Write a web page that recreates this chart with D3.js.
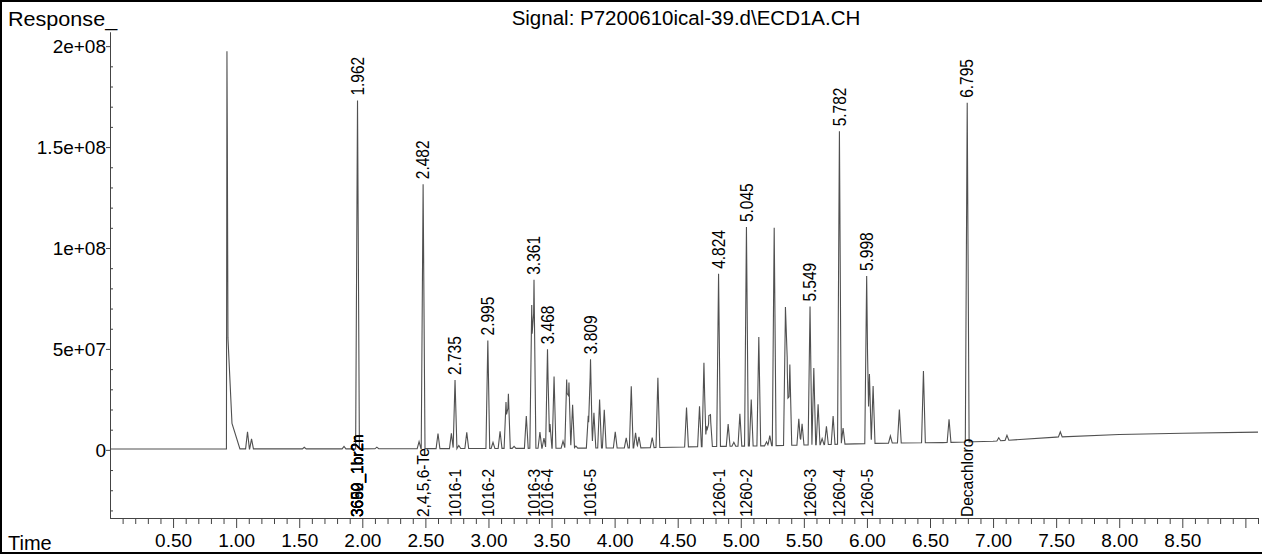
<!DOCTYPE html>
<html>
<head>
<meta charset="utf-8">
<script src="https://cdn.jsdelivr.net/npm/d3@7"></script>
<style>
  body { margin: 0; background: #fff; }
  svg text { font-family: "Liberation Sans", Arial, sans-serif; fill: #000; }
</style>
</head>
<body>
<div id="chart"></div>
<script>
// ECD1A chromatogram with retention-time and compound annotations
const W = 1262, H = 555;

// baseline drift: time (min) -> response
const baselineTimes  = [0, 1.9, 2.5, 3.5, 4.2, 4.7, 5.2, 5.8, 6.2, 6.6, 6.85, 7.0, 7.5, 8.0, 8.5, 9.1];
const baselineValues = [0.45e6, 0.5e6, 0.6e6, 0.8e6, 1.0e6, 1.6e6, 2.0e6, 2.8e6, 3.4e6, 3.6e6, 4.0e6, 4.3e6, 6.3e6, 7.6e6, 8.2e6, 8.8e6];

// peak apex times (min) and heights above the baseline
const peakTimes = [
  1.090, 1.122, 1.540, 1.855, 1.962, 2.115, 2.450, 2.482, 2.600, 2.706,
  2.735, 2.765, 2.828, 2.995, 3.036, 3.092, 3.139, 3.158, 3.203, 3.300,
  3.343, 3.361, 3.408, 3.440, 3.468, 3.488, 3.520, 3.591, 3.620, 3.638,
  3.667, 3.693, 3.791, 3.809, 3.836, 3.881, 3.918, 4.005, 4.092, 4.132,
  4.166, 4.193, 4.298, 4.343, 4.570, 4.673, 4.708, 4.729, 4.747, 4.760,
  4.824, 4.900, 4.945, 4.993, 5.045, 5.083, 5.143, 5.204, 5.230, 5.265,
  5.354, 5.368, 5.389, 5.460, 5.486, 5.549, 5.579, 5.613, 5.645, 5.679,
  5.732, 5.782, 5.811, 5.998, 6.020, 6.049, 6.186, 6.257, 6.448, 6.651,
  6.795, 7.045, 7.110, 7.533
];
const peakHeights = [
  8.5e6, 5e6, 0.8e6, 1.2e6, 172.5e6, 0.8e6, 3.5e6, 131e6, 7.5e6, 7.5e6,
  34e6, 1.5e6, 8e6, 53.5e6, 3e6, 8.5e6, 23e6, 27e6, 1e6, 16e6,
  71e6, 83.5e6, 8e6, 5e6, 49e6, 12e6, 35.5e6, 3.5e6, 34e6, 32.5e6,
  21.5e6, 1e6, 16e6, 44e6, 17.5e6, 24e6, 19e6, 8e6, 5e6, 30.5e6,
  7.5e6, 5.5e6, 5e6, 34.5e6, 19.5e6, 20e6, 41.5e6, 10e6, 13.5e6, 14e6,
  85.5e6, 11e6, 2e6, 16e6, 108.5e6, 23e6, 54e6, 2e6, 5e6, 108e6,
  66e6, 39e6, 40e6, 13e6, 10.5e6, 68.5e6, 38e6, 20e6, 3e6, 9e6,
  14e6, 155e6, 8e6, 83e6, 34.5e6, 28.5e6, 3.5e6, 16.5e6, 35.5e6, 11.5e6,
  168e6, 1.5e6, 2.5e6, 2.5e6
];

// solvent front and its tail: time, height, left and right half-widths (min)
const solventParts = [
  [0.927, 147e6, 0.004, 0.008],
  [0.927, 45e6, 0.004, 0.04],
  [0.930, 20e6, 0.004, 0.1]
];

// integrated peaks carrying a retention-time label
const labelledTimes = [1.962, 2.482, 2.735, 2.995, 3.361, 3.468, 3.809, 4.824, 5.045, 5.549, 5.782, 5.998, 6.795];

// compound names printed along the time axis
const compoundTimes = [1.962, 1.962, 1.962, 1.962, 2.482, 2.735, 2.995, 3.361, 3.468, 3.809, 4.824, 5.045, 5.549, 5.782, 5.998, 6.795];
const compoundNames = ["3650_1br2n", "3652_1br2n", "3699_1br2n", "3660_1br2n", "2,4,5,6-Te",
  "1016-1", "1016-2", "1016-3", "1016-4", "1016-5",
  "1260-1", "1260-2", "1260-3", "1260-4", "1260-5", "Decachloro"];

const xTickValues = [0.5, 1.0, 1.5, 2.0, 2.5, 3.0, 3.5, 4.0, 4.5, 5.0, 5.5, 6.0, 6.5, 7.0, 7.5, 8.0, 8.5, 9.0];
const xTickLabels = ["0.50", "1.00", "1.50", "2.00", "2.50", "3.00", "3.50", "4.00", "4.50", "5.00", "5.50", "6.00", "6.50", "7.00", "7.50", "8.00", "8.50", ""];
const yTickValues = [0, 5e7, 1e8, 1.5e8, 2e8];
const yTickLabels = ["0", "5e+07", "1e+08", "1.5e+08", "2e+08"];

const svg = d3.select("#chart").append("svg")
  .attr("width", W).attr("height", H);

const x = d3.scaleLinear().domain([0, 9.1]).range([110, 1258]);
const y = d3.scaleLinear().domain([-3.375e7, 2.07e8]).range([518, 32]);

// outer frame
svg.append("rect")
  .attr("x", 1).attr("y", 1)
  .attr("width", W + 4).attr("height", 552)
  .attr("fill", "none").attr("stroke", "#000").attr("stroke-width", 2);

// build the signal trace from the peak list
const baseline = d3.scaleLinear().domain(baselineTimes).range(baselineValues);
const HALF_W = 0.015;
const shapes = peakTimes.map((t, i) => ({ t, h: peakHeights[i], wl: HALF_W, wr: HALF_W }))
  .concat(solventParts.map(([t, h, wl, wr]) => ({ t, h, wl, wr })));

function response(t) {
  let v = baseline(t);
  for (const p of shapes) {
    if (t > p.t - p.wl && t <= p.t) v += p.h * (1 - (p.t - t) / p.wl);
    else if (t > p.t && t < p.t + p.wr) v += p.h * (1 - (t - p.t) / p.wr);
  }
  return v;
}

const knots = Array.from(new Set(baselineTimes.concat(
  shapes.flatMap(p => [p.t - p.wl, p.t, p.t + p.wr])
))).filter(t => t >= 0 && t <= 9.1).sort(d3.ascending);
const trace = knots.map(t => [t, response(t)]);

svg.append("path")
  .datum(trace)
  .attr("fill", "none")
  .attr("stroke", "#505050")
  .attr("stroke-width", 1.1)
  .attr("d", d3.line().x(d => x(d[0])).y(d => y(d[1])));

// x axis: minor ticks every 0.1 min, longer ticks every 0.5 min
const minorX = d3.range(1, 92).map(i => i / 10).filter(v => Math.round(v * 10) % 5 !== 0);
const gxMinor = svg.append("g")
  .attr("transform", "translate(0,518)")
  .call(d3.axisBottom(x).tickValues(minorX).tickSize(6).tickSizeOuter(0).tickFormat(""));
const gx = svg.append("g")
  .attr("transform", "translate(0,518)")
  .call(d3.axisBottom(x).tickValues(xTickValues).tickSize(10).tickSizeOuter(0)
    .tickPadding(6).tickFormat((d, i) => xTickLabels[i]));

// y axis
const minorY = d3.range(-3, 21).map(i => i * 1e7).filter(v => !yTickValues.includes(v));
const gyMinor = svg.append("g")
  .attr("transform", "translate(110,0)")
  .call(d3.axisRight(y).tickValues(minorY).tickSize(3).tickSizeOuter(0).tickFormat(""));
const gy = svg.append("g")
  .attr("transform", "translate(110,0)")
  .call(d3.axisLeft(y).tickValues(yTickValues).tickSize(4).tickSizeOuter(0)
    .tickPadding(0).tickFormat((d, i) => yTickLabels[i]));

[gxMinor, gx, gyMinor, gy].forEach(g => {
  g.attr("color", "#444").attr("font-size", 19)
   .attr("font-family", '"Liberation Sans", Arial, sans-serif');
  g.selectAll("text").attr("fill", "#000");
});
gx.selectAll("text").attr("dy", "0.71em");
gy.selectAll("text").attr("dy", "0.35em");

// retention-time labels above the peaks
labelledTimes.forEach(t => {
  const top = y(response(t)) - 5;
  svg.append("text")
    .attr("transform", `translate(${x(t)},${top}) scale(1.15,1) rotate(-90)`)
    .attr("dy", "0.35em")
    .attr("font-size", 15.5)
    .text(t.toFixed(3));
});

// compound names along the bottom
compoundTimes.forEach((t, i) => {
  svg.append("text")
    .attr("transform", `translate(${x(t)},517) scale(1.1,1) rotate(-90)`)
    .attr("dy", "0.35em")
    .attr("font-size", 15.5)
    .text(compoundNames[i]);
});

// titles
svg.append("text").attr("x", 8).attr("y", 26).attr("font-size", 20)
  .attr("transform", "translate(8,0) scale(1.08,1) translate(-8,0)").text("Response_");
svg.append("text").attr("x", 8).attr("y", 550).attr("font-size", 20).text("Time");
svg.append("text").attr("x", 686).attr("y", 25).attr("font-size", 20.5)
  .attr("text-anchor", "middle").text("Signal: P7200610ical-39.d\\ECD1A.CH");
</script>
</body>
</html>
